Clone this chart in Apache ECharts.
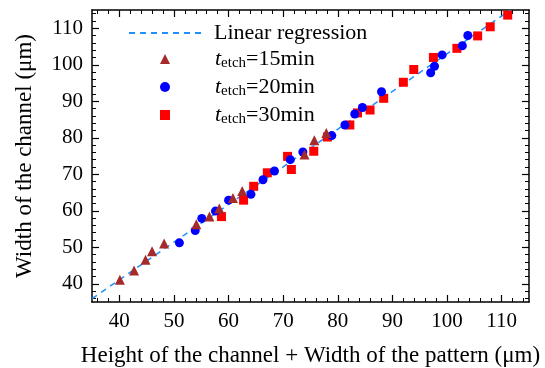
<!DOCTYPE html>
<html>
<head>
<meta charset="UTF-8">
<title></title>
<script src="https://cdn.jsdelivr.net/npm/echarts@6/dist/echarts.min.js"></script>
<style>
html,body{margin:0;padding:0;background:#fff;}
#main{width:545px;height:368px;}
</style>
</head>
<body>
<div id="main"></div>
<script type="text/javascript">
// values (um)
var fitLine = [[35, 35.9], [111.6, 115]];
var etch15 = [[40.1,41.1],[42.7,43.6],[44.8,46.6],[46.0,48.9],[48.2,51.0],[54.1,56.3],[56.5,58.4],
  [58.3,60.6],[60.8,63.5],[62.5,65.4],[73.9,75.4],[75.7,79.3],[77.9,81.3]];
var etch20 = [[51.0,51.2],[53.9,54.6],[55.1,57.9],[57.6,59.9],[60.0,62.9],[64.1,64.5],[66.3,68.5],
  [68.4,70.9],[71.3,74.0],[73.6,76.1],[78.9,80.6],[81.3,83.5],[83.1,86.5],[84.5,88.3],[88.0,92.6],
  [97.0,97.8],[97.7,99.6],[99.1,102.7],[102.8,105.2],[103.8,108.0]];
var etch30 = [[58.7,58.4],[62.75,62.9],[64.6,66.7],[67.1,70.4],[70.8,74.9],[71.5,71.3],[75.6,76.3],
  [78.1,80.2],[82.2,83.5],[83.6,86.8],[85.9,87.6],[88.4,90.8],[92.0,95.2],[93.9,98.7],[97.5,102.0],
  [101.8,104.5],[105.6,107.9],[107.9,110.4],[111.1,113.6]];
// tick labels / tick places
var majorTicks = [40, 50, 60, 70, 80, 90, 100, 110];
var minorTicks = [36, 38, 42, 44, 46, 48, 52, 54, 56, 58, 62, 64, 66, 68, 72, 74, 76, 78,
  82, 84, 86, 88, 92, 94, 96, 98, 102, 104, 106, 108, 112, 114];
var names = ['Linear regression', 't15', 't20', 't30'];
var etchLabels = {t15: '15min', t20: '20min', t30: '30min'};

var font = 'Liberation Serif';

function valAxis(pos, minor, showLabel, name, gap) {
  return {
    type: 'value', position: pos, min: 35, max: 115,
    axisLine: {show: !minor, lineStyle: {color: '#000', width: 1.5}},
    axisTick: {show: true, inside: true, length: minor ? 4 : 7,
      customValues: minor ? minorTicks : majorTicks,
      lineStyle: {color: '#000', width: minor ? 1 : 1.2}},
    splitLine: {show: false},
    axisLabel: {show: showLabel, customValues: majorTicks, color: '#000',
      fontFamily: font, fontSize: 21, margin: 9},
    name: name, nameLocation: 'middle', nameGap: gap,
    nameTextStyle: {color: '#000', fontFamily: font, fontSize: 23}
  };
}

var chart = echarts.init(document.getElementById('main'));
var option = {
  animation: false,
  grid: {left: 92, right: 16, top: 10, bottom: 66, outerBoundsMode: 'none'},
  xAxis: [valAxis('bottom', false, true, 'Height of the channel + Width of the pattern (\u03bcm)', 42),
          valAxis('bottom', true, false, '', 0),
          valAxis('top', false, false, '', 0),
          valAxis('top', true, false, '', 0)],
  yAxis: [valAxis('left', false, true, 'Width of the channel (\u03bcm)', 56),
          valAxis('left', true, false, '', 0),
          valAxis('right', false, false, '', 0),
          valAxis('right', true, false, '', 0)],
  legend: [{
    data: ['Linear regression'], left: 123, top: 17, itemWidth: 75, itemHeight: 14,
    itemStyle: {opacity: 0},
    textStyle: {color: '#000', fontFamily: font, fontSize: 22, padding: [0, 0, 0, 5]}
  }, {
    data: ['t15', 't20', 't30'], orient: 'vertical', left: 155, top: 43,
    itemWidth: 10, itemHeight: 10, itemGap: 5,
    formatter: function (n) { return '{i|t}{s|etch}{n|=' + etchLabels[n] + '}'; },
    textStyle: {color: '#000', fontFamily: font, fontSize: 22, padding: [0, 0, 0, 40],
      rich: {
        i: {fontFamily: font, fontSize: 22, fontStyle: 'italic', color: '#000'},
        s: {fontFamily: font, fontSize: 15, color: '#000', padding: [9, 0, 0, 0]},
        n: {fontFamily: font, fontSize: 22, color: '#000'}
      }}
  }],
  series: [{
    name: names[0], type: 'line', data: fitLine, symbol: 'none', z: 1,
    lineStyle: {color: '#1e90ff', width: 1.5, type: [6, 5]}
  }, {
    name: names[3], type: 'scatter', data: etch30, symbol: 'rect', symbolSize: 9, z: 2,
    itemStyle: {color: '#ff0000', opacity: 1}
  }, {
    name: names[2], type: 'scatter', data: etch20, symbol: 'circle', symbolSize: 9, z: 3,
    itemStyle: {color: '#0000ff', opacity: 1}
  }, {
    name: names[1], type: 'scatter', data: etch15, symbol: 'triangle', symbolSize: 10, z: 4,
    itemStyle: {color: '#a52a2a', opacity: 1}
  }]
};
chart.setOption(option);
</script>
</body>
</html>
